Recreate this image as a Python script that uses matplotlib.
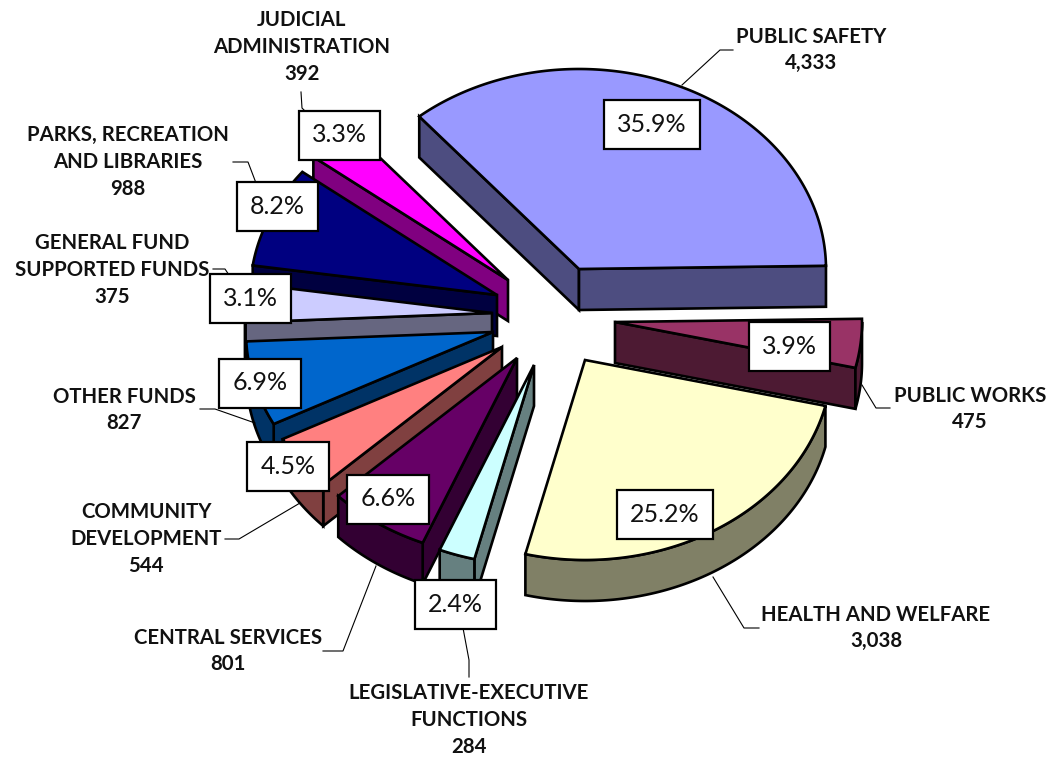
#!/usr/bin/env python3
"""Exploded pseudo-3D pie of expenditures by function, saved as out.png."""
import matplotlib
matplotlib.use("Agg")
import matplotlib.pyplot as plt
import numpy as np
from matplotlib.patches import Polygon

# Data, clockwise from the first slice
categories = [
    "PUBLIC SAFETY", "PUBLIC WORKS", "HEALTH AND WELFARE",
    "LEGISLATIVE-EXECUTIVE\nFUNCTIONS", "CENTRAL SERVICES",
    "COMMUNITY\nDEVELOPMENT", "OTHER FUNDS",
    "GENERAL FUND\nSUPPORTED FUNDS", "PARKS, RECREATION\nAND LIBRARIES",
    "JUDICIAL\nADMINISTRATION",
]
amounts = [4333, 475, 3038, 284, 801, 544, 827, 375, 988, 392]

# Styles
top_colors = ["#9999FF", "#993366", "#FFFFCC", "#CCFFFF", "#660066",
              "#FF8080", "#0066CC", "#CCCCFF", "#000080", "#FF00FF"]
wall_colors = ["#4D4D80", "#4D1A33", "#808066", "#668080", "#330033",
               "#804040", "#003366", "#666680", "#000040", "#800080"]

# Layout, all in image pixels
START_ANGLE = 130.3
RX, RY, DEPTH = 247, 200, 41
apex_x = [579, 615, 585, 534, 517, 502, 493, 492, 497, 508]
apex_y = [269, 322, 360, 365, 358, 347, 332, 313, 295, 280]
draw_order = [0, 9, 8, 7, 6, 5, 4, 3, 1, 2]  # back to front
pct_x = [652, 789, 665, 455, 388, 288, 260, 250, 277, 339]
pct_y = [124, 346, 514, 604, 499, 466, 383, 298, 206, 135]
label_x = [811, 970, 876, 469, 228, 146, 124, 112, 128, 302]
label_y = [50, 409, 628, 720, 651, 539, 410, 270, 162, 47]
leaders = [
    [(682, 85), (720, 50), (733, 50)],
    [(862, 385), (876, 408), (890, 408)],
    [(713, 577), (744, 628), (759, 628)],
    [(463, 628), (469, 660), (469, 677)],
    [(376, 566), (343, 651), (323, 651)],
    [(300, 503), (239, 539), (225, 539)],
    [(255, 423), (215, 409), (200, 409)],
    [(229, 275), (225, 269), (213, 269)],
    [(256, 183), (248, 162), (233, 162)],
    [(306, 112), (302, 108), (301, 92)],
]


def arc(cx, cy, a0, a1, dy=0):
    """Points on the slice rim between two angles in degrees."""
    t = np.radians(np.linspace(a0, a1, max(2, int(abs(a1 - a0) * 2))))
    return np.column_stack([cx + RX * np.cos(t), cy - RY * np.sin(t) + dy])


def add_poly(ax, pts, color):
    ax.add_patch(Polygon(pts, closed=True, facecolor=color, edgecolor="black",
                         linewidth=1.9, joinstyle="miter"))


def draw_slice(ax, cx, cy, a0, a1, top, wall):
    """a0 is the counter-clockwise end, a1 < a0 the clockwise end."""
    apex = np.array([cx, cy])
    for ang, visible in ((a0, np.cos(np.radians(a0)) < 0), (a1, np.cos(np.radians(a1)) > 0)):
        if visible:
            rim = arc(cx, cy, ang, ang)[0]
            add_poly(ax, [apex, rim, rim + [0, DEPTH], apex + [0, DEPTH]], wall)
    # outer wall, only where the rim faces the viewer
    for lo, hi in ((-180, 0), (-540, -360)):
        b0, b1 = min(a0, hi), max(a1, lo)
        if b0 > b1:
            add_poly(ax, np.vstack([arc(cx, cy, b0, b1), arc(cx, cy, b1, b0, DEPTH)]), wall)
    add_poly(ax, np.vstack([apex, arc(cx, cy, a0, a1)]), top)


def main():
    fig = plt.figure(figsize=(10.52, 7.58), dpi=100)
    ax = fig.add_axes([0, 0, 1, 1])
    ax.set_xlim(0, 1052)
    ax.set_ylim(758, 0)
    ax.axis("off")

    total = sum(amounts)
    spans = [360.0 * v / total for v in amounts]
    ends = START_ANGLE - np.cumsum(spans)
    starts = ends + np.array(spans)

    for i in draw_order:
        draw_slice(ax, apex_x[i], apex_y[i], starts[i], ends[i], top_colors[i], wall_colors[i])

    for pts in leaders:
        xs, ys = zip(*pts)
        ax.plot(xs, ys, color="black", lw=0.8, solid_joinstyle="miter", zorder=3)

    for i, value in enumerate(amounts):
        ax.text(pct_x[i], pct_y[i], f"{100 * value / total:.1f}%", family="Lato",
                fontsize=18, ha="center", va="center", color="#111111", zorder=5,
                bbox=dict(boxstyle="square,pad=0.52", fc="white", ec="black", lw=1.6))
        ax.text(label_x[i], label_y[i], f"{categories[i]}\n{value:,}", family="Lato",
                fontweight="bold", fontsize=14.7, ha="center", va="center",
                linespacing=1.42, color="#111111", zorder=5)

    fig.savefig("out.png", dpi=100)
    plt.close(fig)


if __name__ == "__main__":
    main()
